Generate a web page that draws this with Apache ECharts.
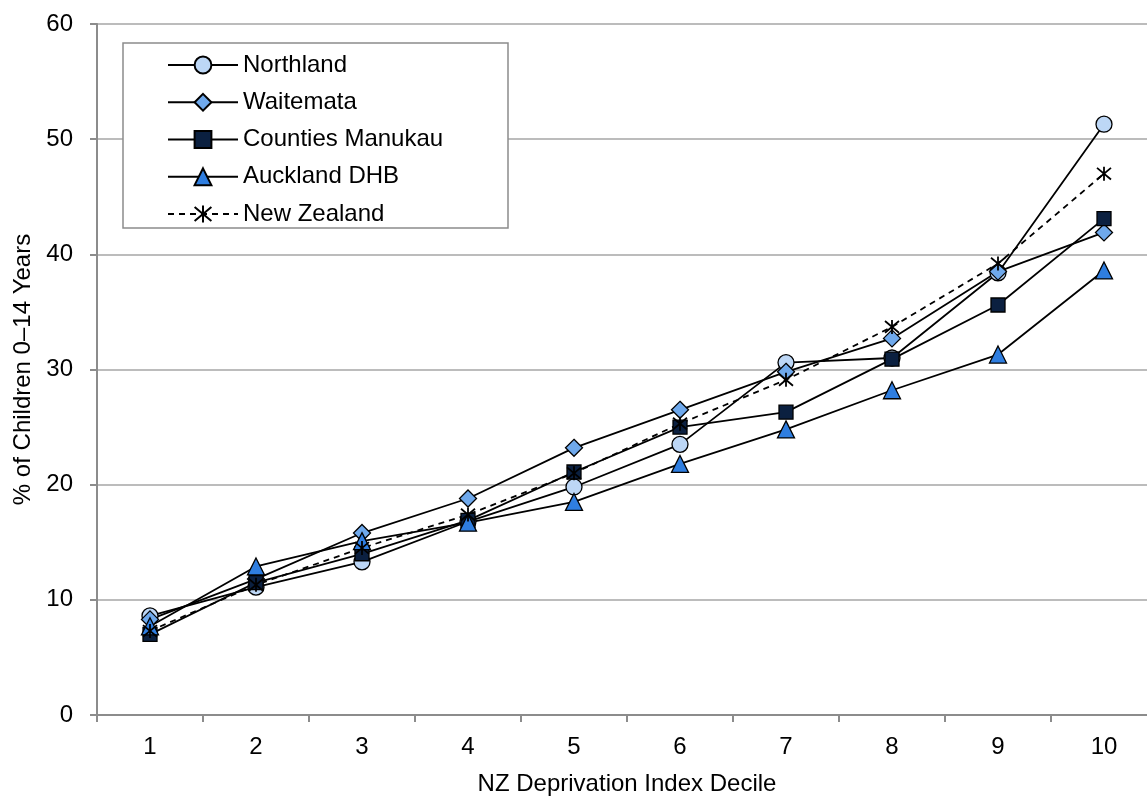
<!DOCTYPE html>
<html>
<head>
<meta charset="utf-8">
<script src="https://cdn.jsdelivr.net/npm/echarts@6/dist/echarts.min.js"></script>
<style>
html,body{margin:0;padding:0;background:#fff;}
#chart{width:1147px;height:798px;}
</style>
</head>
<body>
<div id="chart"></div>
<script>
var categories = ['1','2','3','4','5','6','7','8','9','10'];
var northland = [8.6, 11.1, 13.3, 16.8, 19.8, 23.5, 30.6, 31.0, 38.4, 51.3];
var waitemata = [8.3, 11.8, 15.8, 18.8, 23.2, 26.5, 29.8, 32.7, 38.5, 41.9];
var countiesManukau = [7.0, 11.5, 14.0, 16.9, 21.1, 25.0, 26.3, 30.9, 35.6, 43.1];
var aucklandDHB = [7.7, 12.9, 15.1, 16.7, 18.5, 21.8, 24.8, 28.2, 31.3, 38.6];
var newZealand = [7.3, 11.3, 14.5, 17.4, 21.0, 25.3, 29.1, 33.7, 39.2, 47.0];
var seriesNames = ['Northland','Waitemata','Counties Manukau','Auckland DHB','New Zealand'];

var FONT = 'Liberation Sans, Arial, sans-serif';
var asterisk = 'path://M0,0L10,10M10,0L0,10M5,-1L5,11';

function mk(name, data, symbol, size, fill, dashed) {
  return {
    name: name,
    type: 'line',
    data: data,
    symbol: symbol,
    symbolSize: size,
    showAllSymbol: true,
    lineStyle: {color: '#000', width: 1.8, type: dashed ? [6, 5] : 'solid'},
    itemStyle: {color: fill, borderColor: '#000', borderWidth: dashed ? 1.8 : 1.3},
    emphasis: {disabled: true},
    animation: false
  };
}

var chart = echarts.init(document.getElementById('chart'));
chart.setOption({
  backgroundColor: '#fff',
  animation: false,
  grid: {left: 97, top: 24, width: 1060, height: 691, containLabel: false, outerBoundsMode: 'none'},
  legend: {
    data: seriesNames,
    orient: 'vertical',
    left: 123,
    top: 43,
    padding: [10, 20, 2, 44],
    itemWidth: 70,
    itemHeight: 21,
    itemGap: 13.25,
    borderColor: '#8c8c8c',
    borderWidth: 1.5,
    backgroundColor: '#fff',
    textStyle: {fontFamily: FONT, fontSize: 24, color: '#000', width: 245, lineHeight: 24}
  },
  xAxis: {
    type: 'category',
    data: categories,
    boundaryGap: true,
    name: 'NZ Deprivation Index Decile',
    nameLocation: 'middle',
    nameGap: 57,
    nameTextStyle: {fontFamily: FONT, fontSize: 24, color: '#000'},
    axisLine: {lineStyle: {color: '#8c8c8c', width: 2}},
    axisTick: {show: true, length: 7, inside: false, lineStyle: {color: '#8c8c8c', width: 2}},
    axisLabel: {fontFamily: FONT, fontSize: 24, color: '#000', margin: 20},
    splitLine: {show: false}
  },
  yAxis: {
    type: 'value',
    min: 0,
    max: 60,
    interval: 10,
    name: '% of Children 0–14 Years',
    nameLocation: 'middle',
    nameGap: 60,
    nameTextStyle: {fontFamily: FONT, fontSize: 24, color: '#000'},
    axisLine: {show: true, lineStyle: {color: '#8c8c8c', width: 2}},
    axisTick: {show: true, length: 7, inside: false, lineStyle: {color: '#8c8c8c', width: 2}},
    axisLabel: {fontFamily: FONT, fontSize: 24, color: '#000', margin: 24},
    splitLine: {show: true, lineStyle: {color: '#a6a6a6', width: 1.5}}
  },
  series: [
    mk('Northland', northland, 'circle', 16, '#bdd7f6', false),
    mk('Waitemata', waitemata, 'diamond', 17, '#6fa9ec', false),
    mk('Counties Manukau', countiesManukau, 'rect', 14, '#0b2040', false),
    mk('Auckland DHB', aucklandDHB, 'triangle', 17, '#2f7ee0', false),
    mk('New Zealand', newZealand, asterisk, 14, 'rgba(0,0,0,0)', true)
  ]
});
</script>
</body>
</html>
